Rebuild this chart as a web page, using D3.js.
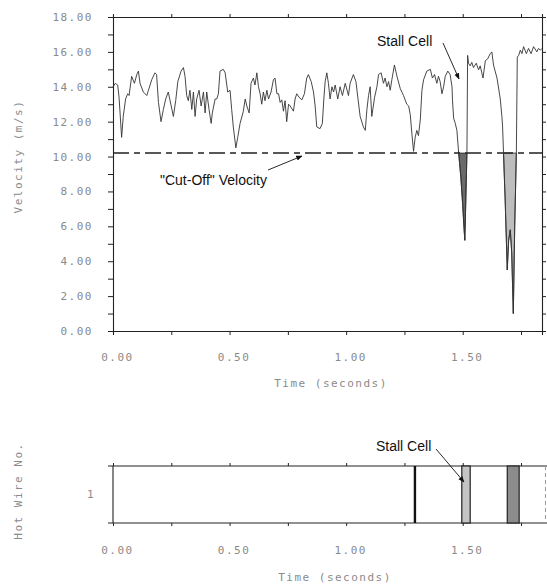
<!DOCTYPE html>
<html>
<head>
<meta charset="utf-8">
<script src="https://cdn.jsdelivr.net/npm/d3@7"></script>
<style>
  body { margin: 0; background: #fff; }
  .tick text, .plot-label { font-family: "DejaVu Sans Mono", monospace; font-size: 11px; fill: #8a8a8a; letter-spacing: 1.5px; }
  .note { font-family: "Liberation Sans", Arial, sans-serif; font-size: 14px; fill: #111; }
  .domain, .tick line { stroke: #222; }
</style>
</head>
<body>
<div id="chart"></div>
<script>
// hot wire velocity trace (seconds, m/s)
const TIME = [
  0.000, 0.010, 0.020, 0.026, 0.037, 0.044, 0.054, 0.063, 0.069, 0.080, 0.092, 0.102, 0.109, 0.116,
  0.130, 0.145, 0.152, 0.166, 0.180, 0.187, 0.195, 0.206, 0.216, 0.226, 0.237, 0.248, 0.259, 0.269,
  0.278, 0.292, 0.302, 0.309, 0.316, 0.323, 0.330, 0.338, 0.345, 0.352, 0.359, 0.369, 0.378, 0.388,
  0.395, 0.402, 0.412, 0.421, 0.426, 0.438, 0.445, 0.452, 0.459, 0.473, 0.481, 0.492,
  0.502, 0.509, 0.516, 0.527, 0.535, 0.545, 0.559, 0.567, 0.574, 0.584, 0.592, 0.602, 0.609, 0.617,
  0.624, 0.631, 0.638, 0.645, 0.652, 0.660, 0.667, 0.678, 0.688, 0.695, 0.703, 0.710, 0.717, 0.724,
  0.731, 0.738, 0.745, 0.753, 0.760, 0.774, 0.781, 0.788, 0.798, 0.810, 0.821, 0.831, 0.838, 0.850,
  0.860, 0.867, 0.874, 0.888, 0.898, 0.904, 0.910, 0.917, 0.924, 0.931, 0.939, 0.946, 0.953, 0.964,
  0.974, 0.984, 0.996, 1.010,
  1.017, 1.031, 1.042, 1.050, 1.060, 1.074, 1.082, 1.089, 1.096, 1.103, 1.110, 1.122, 1.132, 1.139,
  1.150, 1.160, 1.167, 1.175, 1.182, 1.189, 1.196, 1.207, 1.218, 1.232, 1.246, 1.260, 1.268, 1.275,
  1.282, 1.289, 1.296, 1.303, 1.310, 1.318, 1.325, 1.332, 1.346, 1.361, 1.370, 1.379, 1.389, 1.396,
  1.403, 1.411, 1.418, 1.425, 1.436, 1.446, 1.454, 1.456, 1.461, 1.468, 1.475, 1.482,
  1.492, 1.500, 1.506, 1.509, 1.512, 1.515, 1.518,
  1.521, 1.525, 1.532, 1.539, 1.546, 1.558, 1.568, 1.575, 1.587, 1.597, 1.607, 1.618, 1.625, 1.632,
  1.639, 1.647, 1.661, 1.668, 1.671, 1.675,
  1.682, 1.691, 1.697, 1.704, 1.710, 1.717, 1.723, 1.730,
  1.734, 1.740, 1.747, 1.754, 1.761, 1.773, 1.782, 1.793, 1.804, 1.818, 1.825, 1.833, 1.840
];
const VELOCITY = [
  14.0, 14.2, 14.1, 13.4, 11.1, 12.3, 13.3, 13.6, 13.5, 14.6, 14.2, 14.7, 14.9, 14.2,
  13.7, 13.5, 13.8, 14.4, 14.8, 14.7, 13.1, 12.0, 12.7, 13.3, 13.7, 13.0, 12.3, 13.2,
  14.3, 14.9, 15.1, 14.6, 13.5, 13.2, 13.8, 12.7, 13.7, 12.3, 13.3, 13.8, 12.9, 13.7,
  12.5, 13.7, 12.7, 11.9, 12.5, 13.3, 13.3, 13.6, 14.9, 15.0, 14.8, 13.7,
  13.8, 12.7, 11.7, 10.5, 11.1, 11.9, 12.6, 13.3, 12.9, 12.5, 14.2, 14.5, 14.1, 14.8,
  14.0, 13.6, 13.0, 13.7, 13.2, 13.8, 13.3, 13.7, 14.4, 14.5, 13.6, 13.6, 13.1, 13.25,
  12.6, 13.2, 12.0, 13.0, 12.9, 12.6, 13.3, 13.6, 13.4, 13.25, 13.6, 14.5, 14.7, 14.3,
  13.7, 12.9, 11.7, 11.6, 11.9, 13.25, 14.3, 14.8, 14.2, 13.3, 14.0, 13.7, 14.1, 13.3,
  14.0, 13.5, 14.2, 13.5,
  14.2, 14.7, 14.3, 13.4, 12.3, 11.7, 11.5, 12.7, 13.5, 14.0, 12.3, 13.4, 14.0, 14.7,
  14.8, 14.2, 14.5, 14.0, 14.3, 13.8, 14.4, 15.25, 14.6, 13.9, 13.5, 13.0, 12.9, 12.4,
  11.3, 10.3, 11.1, 11.5, 11.2, 12.1, 13.8, 14.4, 14.9, 15.0, 14.5, 14.7, 14.2, 14.6,
  14.3, 13.6, 14.0, 14.6, 14.9, 14.7, 14.0, 13.25, 12.2, 11.9, 11.5, 10.3,
  8.8, 7.2, 5.8, 5.2, 6.8, 8.5, 10.2,
  15.8, 15.35, 15.2, 15.4, 15.1, 15.35, 14.97, 15.2, 14.5, 15.5, 15.6, 15.9, 16.0, 15.25,
  14.9, 14.5, 13.3, 12.3, 11.7, 10.2,
  7.5, 3.5, 5.2, 5.8, 4.5, 1.0, 6.0, 10.2,
  15.7, 15.8, 16.1, 15.9, 16.3, 15.9, 16.2, 15.9, 16.3, 16.0, 16.2, 16.1, 16.2
];
const CUT_OFF = 10.2;
const STALLS_TOP = [[1.482, 1.518], [1.675, 1.730]];
const STALL_FILLS = ["#6a6a6a", "#bdbdbd"];

// hot wire 1 events: [start, end]
const SPIKE_TIME = 1.295;
const STALLS_BOTTOM = [[1.496, 1.532], [1.691, 1.742]];
const STALL_FILLS_BOTTOM = ["#c4c4c4", "#8c8c8c"];
const EDGE_TIME = 1.855;

const X_TICKS = [0, 0.5, 1.0, 1.5];
const X_MINOR = d3.range(0, 1.85, 0.25);
const Y_TICKS = d3.range(0, 19, 1);
const WIRES = ["1"];

const svg = d3.select("#chart").append("svg").attr("width", 547).attr("height", 586);

const x = d3.scaleLinear().domain([0, 1.84]).range([113, 542]);
const y = d3.scaleLinear().domain([0, 18]).range([331, 17]);

const fmt2 = d3.format(".2f");

// ---------- top panel ----------
svg.append("g").attr("transform", `translate(0,${y(0)})`)
  .call(d3.axisBottom(x).tickValues(X_MINOR).tickSize(4).tickPadding(18)
    .tickFormat(d => X_TICKS.some(t => Math.abs(t - d) < 1e-6) ? fmt2(d) : ""))
  .call(g => g.selectAll(".tick text").attr("dx", 4));

svg.append("g").attr("transform", `translate(0,${y(18)})`)
  .call(d3.axisTop(x).tickValues(X_MINOR).tickSize(3).tickFormat(""));

svg.append("g").attr("transform", `translate(${x(0)},0)`)
  .call(d3.axisLeft(y).tickValues(Y_TICKS).tickSize(5).tickPadding(15)
    .tickFormat(d => d % 2 === 0 ? fmt2(d) : ""));

svg.append("g").attr("transform", `translate(${x(1.84)},0)`)
  .call(d3.axisRight(y).tickValues(Y_TICKS).tickSize(4).tickFormat(""));

svg.selectAll(".domain").attr("stroke-width", 1.1);

const pts = TIME.map((t, i) => ({ t, v: VELOCITY[i] }));

// shaded stall regions under cut-off
const area = d3.area().x(d => x(d.t)).y0(y(CUT_OFF)).y1(d => y(d.v));
STALLS_TOP.forEach(([a, b], i) => {
  const seg = pts.filter(d => d.t >= a - 1e-6 && d.t <= b + 1e-6);
  svg.append("path").datum(seg).attr("d", area)
    .attr("fill", STALL_FILLS[i]).attr("stroke", "#222").attr("stroke-width", 0.8);
});

svg.append("line")
  .attr("x1", x(0)).attr("x2", x(1.84))
  .attr("y1", y(CUT_OFF)).attr("y2", y(CUT_OFF))
  .attr("stroke", "#222").attr("stroke-width", 1.4)
  .attr("stroke-dasharray", "16,5,6,5");

svg.append("path").datum(pts)
  .attr("d", d3.line().x(d => x(d.t)).y(d => y(d.v)))
  .attr("fill", "none").attr("stroke", "#333").attr("stroke-width", 0.9);

svg.append("text").attr("class", "plot-label")
  .attr("transform", `translate(22,${(y(7) + y(13)) / 2}) rotate(-90)`)
  .attr("text-anchor", "middle").text("Velocity (m/s)");

svg.append("text").attr("class", "plot-label")
  .attr("x", 331).attr("y", 387).attr("text-anchor", "middle").text("Time (seconds)");

svg.append("defs").append("marker")
  .attr("id", "arrow").attr("viewBox", "0 0 10 10").attr("refX", 9).attr("refY", 5)
  .attr("markerWidth", 7).attr("markerHeight", 7).attr("orient", "auto")
  .append("path").attr("d", "M0,1 L10,5 L0,9 z").attr("fill", "#111");

function note(tx, ty, text, x1, y1, x2, y2) {
  svg.append("text").attr("class", "note").attr("x", tx).attr("y", ty).text(text);
  svg.append("line").attr("x1", x1).attr("y1", y1).attr("x2", x2).attr("y2", y2)
    .attr("stroke", "#111").attr("stroke-width", 0.9).attr("marker-end", "url(#arrow)");
}

note(377, 46, "Stall Cell", 443, 43, 459, 79);
note(160, 185, "\"Cut-Off\" Velocity", 268, 170, 302, 156);

// ---------- bottom panel ----------
const yTop = 466, yBot = 523;
const yb = d3.scaleBand().domain(WIRES).range([yTop, yBot]);

svg.append("g").attr("transform", `translate(0,${yBot})`)
  .call(d3.axisBottom(x).tickValues(X_MINOR).tickSize(3).tickPadding(20)
    .tickFormat(d => X_TICKS.some(t => Math.abs(t - d) < 1e-6) ? fmt2(d) : ""))
  .call(g => g.selectAll(".tick text").attr("dx", 4))
  .call(g => g.select(".domain").remove());

svg.append("g").attr("transform", `translate(0,${yTop})`)
  .call(d3.axisTop(x).tickValues(X_MINOR).tickSize(3).tickFormat(""))
  .call(g => g.select(".domain").remove());

[yTop, yBot].forEach(yy => {
  svg.append("line").attr("x1", x(0) - 5).attr("x2", 547).attr("y1", yy).attr("y2", yy)
    .attr("stroke", "#222").attr("stroke-width", 1.1);
});
svg.append("line").attr("x1", x(0)).attr("x2", x(0)).attr("y1", yTop).attr("y2", yBot)
  .attr("stroke", "#222").attr("stroke-width", 1.1);

svg.append("text").attr("class", "plot-label")
  .attr("x", 95).attr("y", yb("1") + yb.bandwidth() / 2).attr("dy", "0.35em")
  .attr("text-anchor", "end").text(WIRES[0]);

STALLS_BOTTOM.forEach(([a, b], i) => {
  svg.append("rect").attr("x", x(a)).attr("y", yTop).attr("width", x(b) - x(a)).attr("height", yBot - yTop)
    .attr("fill", STALL_FILLS_BOTTOM[i]).attr("stroke", "#222").attr("stroke-width", 1.2);
});

svg.append("line").attr("x1", x(SPIKE_TIME)).attr("x2", x(SPIKE_TIME)).attr("y1", yTop).attr("y2", yBot)
  .attr("stroke", "#111").attr("stroke-width", 2.4);

svg.append("line").attr("x1", x(EDGE_TIME)).attr("x2", x(EDGE_TIME)).attr("y1", yTop).attr("y2", yBot)
  .attr("stroke", "#999").attr("stroke-width", 1).attr("stroke-dasharray", "4,3");

svg.append("text").attr("class", "plot-label")
  .attr("transform", `translate(22,491) rotate(-90)`)
  .attr("text-anchor", "middle").text("Hot Wire No.");

svg.append("text").attr("class", "plot-label")
  .attr("x", 335).attr("y", 581).attr("text-anchor", "middle").text("Time (seconds)");

note(376, 451, "Stall Cell", 436, 449, 464, 482);
</script>
</body>
</html>
